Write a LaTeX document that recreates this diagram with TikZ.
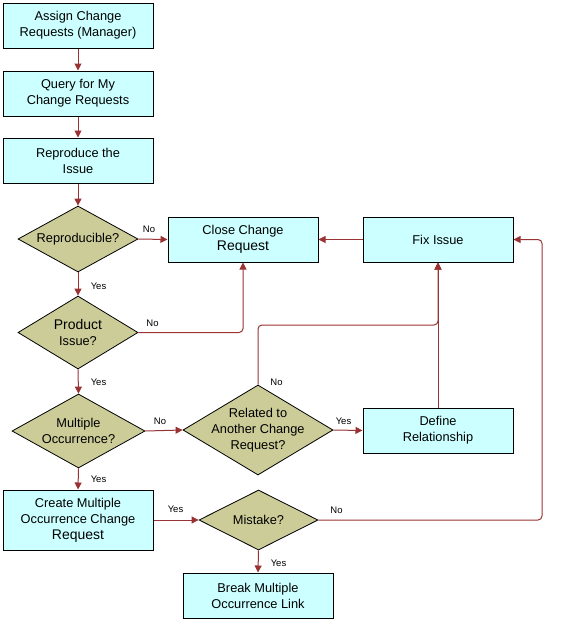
\documentclass[tikz,border=0pt]{standalone}
\usepackage{fontspec}
\setmainfont{Liberation Sans}
\usetikzlibrary{shapes.geometric,arrows.meta}
\definecolor{boxc}{HTML}{CCFFFF}
\definecolor{diac}{HTML}{CCCC99}
\definecolor{linec}{HTML}{993333}
\tikzset{
  box/.style={draw=black, line width=1pt, fill=boxc, minimum width=150pt, minimum height=45pt, inner sep=0pt, align=center, font=\fontsize{12.8pt}{16pt}\selectfont},
  dia/.style={draw=black, line width=0.8pt, fill=diac, shape=diamond, inner sep=0pt},
  diatext/.style={align=center, inner sep=0pt, font=\fontsize{12.8pt}{16pt}\selectfont},
  lab/.style={inner sep=0pt, font=\fontsize{9.5pt}{11pt}\selectfont},
  conn/.style={draw=linec, line width=1pt, rounded corners=4pt, -{Triangle[length=7pt,width=7pt]}},
}
\newcommand{\bigw}[1]{{\fontsize{14pt}{16pt}\selectfont #1}}
\begin{document}
\begin{tikzpicture}[x=1pt,y=-1pt]
\useasboundingbox (0,0) rectangle (569,622);
% boxes
\node[box] (assign) at (78,25.5) {Assign Change\\Requests (Manager)};
\node[box] (query) at (78,93.5) {Query for My\\Change Requests};
\node[box] (repro) at (78,160.5) {Reproduce the\\Issue};
\node[box] (close) at (243,239.5) {Close Change\\\bigw{Request}};
\node[box] (fix) at (438,239.5) {Fix Issue};
\node[box] (define) at (438,430.5) {Define\\Relationship};
\node[box, minimum height=60pt] (create) at (78,520) {Create Multiple\\Occurrence Change\\\bigw{Request}};
\node[box] (break) at (258,595.5) {Break Multiple\\Occurrence Link};
% diamonds
\node[dia, minimum width=120pt, minimum height=66pt] (repq) at (78,239) {};
\node[diatext] (repqt) at (repq) {Reproducible?};
\node[dia, minimum width=120pt, minimum height=73pt] (prod) at (78,332.5) {};
\node[diatext] (prodt) at (prod) {\bigw{Product}\\Issue?};
\node[dia, minimum width=133pt, minimum height=74pt] (mult) at (78.5,431) {};
\node[diatext] (multt) at (mult) {Multiple\\Occurrence?};
\node[dia, minimum width=150pt, minimum height=90pt] (rel) at (258,430) {};
\node[diatext] (relt) at (rel) {Related to\\Another Change\\Request?};
\node[dia, minimum width=119pt, minimum height=60pt] (mis) at (258.5,520) {};
\node[diatext] (mist) at (mis) {Mistake?};
% helper coordinates
\coordinate (junc) at (438,325);
\coordinate (loop) at (542,0);
% connectors
\draw[conn] (assign) -- (query);
\draw[conn] (query) -- (repro);
\draw[conn] (repro) -- (repq.north);
\draw[conn] (repq.east) -- (close.west);
\draw[conn] (repq.south) -- (prod.north);
\draw[conn] (prod.east) -| (close.south);
\draw[conn] (prod.south) -- (mult.north);
\draw[conn] (mult.east) -- (rel.west);
\draw[conn] (mult.south) -- (create.north);
\draw[conn] (rel.east) -- (define.west);
\draw[conn] (rel.north) |- (junc) -- (fix.south);
\draw[conn] (define.north) -- (fix.south);
\draw[conn] (create.east) -- (mis.west);
\draw[conn] (mis.south) -- (break.north);
\draw[conn] (mis.east) -- (mis.east -| loop) -- (fix.east -| loop) -- (fix.east);
\draw[conn] (fix.west) -- (close.east);
% labels
\node[lab] (l1) at (149,229) {No};
\node[lab] (l2) at (98.5,286) {Yes};
\node[lab] (l3) at (152.5,323) {No};
\node[lab] (l4) at (98.5,382) {Yes};
\node[lab] (l5) at (276.5,382) {No};
\node[lab] (l6) at (343.5,421) {Yes};
\node[lab] (l7) at (160,421) {No};
\node[lab] (l8) at (98.5,479) {Yes};
\node[lab] (l9) at (175.5,509) {Yes};
\node[lab] (l10) at (336.5,510) {No};
\node[lab] (l11) at (278.5,563) {Yes};
\end{tikzpicture}
\end{document}
